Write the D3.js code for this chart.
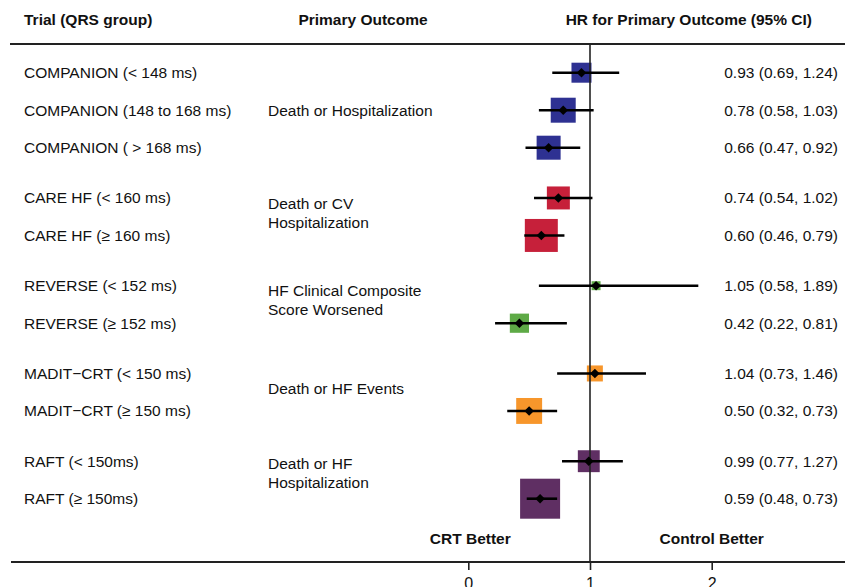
<!DOCTYPE html>
<html>
<head>
<meta charset="utf-8">
<script src="https://cdn.jsdelivr.net/npm/d3@7"></script>
<style>
  html, body { margin: 0; padding: 0; background: #fff; }
  svg { display: block; }
  text { font-family: "Liberation Sans", Arial, Helvetica, sans-serif; fill: #111; }
</style>
</head>
<body>
<svg id="chart" width="852" height="587"></svg>
<script>
// ---- Data ----
const trials = [
  "COMPANION (< 148 ms)", "COMPANION (148 to 168 ms)", "COMPANION ( > 168 ms)",
  "CARE HF (< 160 ms)", "CARE HF (\u2265 160 ms)",
  "REVERSE (< 152 ms)", "REVERSE (\u2265 152 ms)",
  "MADIT\u2212CRT (< 150 ms)", "MADIT\u2212CRT (\u2265 150 ms)",
  "RAFT (< 150ms)", "RAFT (\u2265 150ms)"
];
const groups = [0, 0, 0, 1, 1, 2, 2, 3, 3, 4, 4];
const hr    = [0.93, 0.78, 0.66, 0.74, 0.60, 1.05, 0.42, 1.04, 0.50, 0.99, 0.59];
const lower = [0.69, 0.58, 0.47, 0.54, 0.46, 0.58, 0.22, 0.73, 0.32, 0.77, 0.48];
const upper = [1.24, 1.03, 0.92, 1.02, 0.79, 1.89, 0.81, 1.46, 0.73, 1.27, 0.73];
const weights = [25, 39, 36, 33, 68, 5, 23, 16, 42, 30, 100]; // relative box weight
const outcomes = [
  ["Death or Hospitalization"],
  ["Death or CV", "Hospitalization"],
  ["HF Clinical Composite", "Score Worsened"],
  ["Death or HF Events"],
  ["Death or HF", "Hospitalization"]
];
const groupColors = ["#2E3192", "#C6203A", "#5EAA46", "#F7962B", "#5F2F63"];
const xTicks = [0, 1, 2];
const headers = ["Trial (QRS group)", "Primary Outcome", "HR for Primary Outcome (95% CI)"];
const sideLabels = ["CRT Better", "Control Better"];

// ---- Layout ----
const svg = d3.select("#chart");
const FS = 15.5;
const rowStep = 37.5, groupGap = 0.34, firstRowY = 72.7;
const slot = trials.map((d, i) => i + groups[i] * groupGap);
const y = d3.scaleLinear().domain([0, 1]).range([firstRowY, firstRowY + rowStep]);
const x = d3.scaleLinear().domain([0, 2]).range([468.3, 711.7]);
const size = d3.scaleSqrt().domain([0, 100]).range([0, 40]);
const axisY = 562, ruleY = 44;

// headers
svg.append("text").attr("x", 24).attr("y", 20).attr("dy", "0.35em")
  .attr("font-size", FS).attr("font-weight", "bold").text(headers[0]);
svg.append("text").attr("x", 363).attr("y", 20).attr("dy", "0.35em").attr("text-anchor", "middle")
  .attr("font-size", FS).attr("font-weight", "bold").text(headers[1]);
svg.append("text").attr("x", 812).attr("y", 20).attr("dy", "0.35em").attr("text-anchor", "end")
  .attr("font-size", FS).attr("font-weight", "bold").text(headers[2]);

// top rule
svg.append("line").attr("x1", 10).attr("x2", 845).attr("y1", ruleY).attr("y2", ruleY)
  .attr("stroke", "#222").attr("stroke-width", 2);

// trial labels
svg.append("g").selectAll("text").data(trials).join("text")
  .attr("x", 24).attr("y", (d, i) => y(slot[i])).attr("dy", "0.35em")
  .attr("font-size", FS).text(d => d);

// outcome labels
const offs = [0, -4, -4, -4, -7];
outcomes.forEach((lines, g) => {
  const idx = groups.map((v, i) => v === g ? i : -1).filter(i => i >= 0);
  const mid = (y(slot[idx[0]]) + y(slot[idx[idx.length - 1]])) / 2 + offs[g];
  const lh = 19;
  lines.forEach((t, k) => {
    svg.append("text").attr("x", 268)
      .attr("y", mid + (k - (lines.length - 1) / 2) * lh).attr("dy", "0.35em")
      .attr("font-size", FS).text(t);
  });
});

// CI text
svg.append("g").selectAll("text").data(trials).join("text")
  .attr("x", 838).attr("y", (d, i) => y(slot[i])).attr("dy", "0.35em")
  .attr("text-anchor", "end").attr("font-size", FS)
  .text((d, i) => `${hr[i].toFixed(2)} (${lower[i].toFixed(2)}, ${upper[i].toFixed(2)})`);

// boxes
svg.append("g").selectAll("rect").data(trials).join("rect")
  .attr("x", (d, i) => x(hr[i]) - size(weights[i]) / 2)
  .attr("y", (d, i) => y(slot[i]) - size(weights[i]) / 2)
  .attr("width", (d, i) => size(weights[i]))
  .attr("height", (d, i) => size(weights[i]))
  .attr("fill", (d, i) => groupColors[groups[i]]);

// reference line at 1
svg.append("line").attr("x1", x(1)).attr("x2", x(1)).attr("y1", ruleY).attr("y2", axisY)
  .attr("stroke", "#222").attr("stroke-width", 1.6);

// CI lines
svg.append("g").selectAll("line").data(trials).join("line")
  .attr("x1", (d, i) => x(lower[i])).attr("x2", (d, i) => x(upper[i]))
  .attr("y1", (d, i) => y(slot[i])).attr("y2", (d, i) => y(slot[i]))
  .attr("stroke", "#000").attr("stroke-width", 2.6);

// point diamonds
const dh = 4.8;
svg.append("g").selectAll("path").data(trials).join("path")
  .attr("d", (d, i) => {
    const cx = x(hr[i]), cy = y(slot[i]);
    return `M${cx - dh},${cy}L${cx},${cy - dh}L${cx + dh},${cy}L${cx},${cy + dh}Z`;
  })
  .attr("fill", "#000");

// side labels
svg.append("text").attr("x", x(0) + 2).attr("y", 539).attr("dy", "0.35em").attr("text-anchor", "middle")
  .attr("font-size", FS).attr("font-weight", "bold").text(sideLabels[0]);
svg.append("text").attr("x", x(2)).attr("y", 539).attr("dy", "0.35em").attr("text-anchor", "middle")
  .attr("font-size", FS).attr("font-weight", "bold").text(sideLabels[1]);

// bottom axis
svg.append("line").attr("x1", 11).attr("x2", 845).attr("y1", axisY).attr("y2", axisY)
  .attr("stroke", "#222").attr("stroke-width", 2);
const ax = svg.append("g").attr("transform", `translate(0,${axisY})`)
  .call(d3.axisBottom(x).tickValues(xTicks).tickFormat(d3.format("d")).tickSize(8).tickPadding(8));
ax.select(".domain").remove();
ax.selectAll(".tick line").attr("stroke", "#222").attr("stroke-width", 1.6);
ax.selectAll(".tick text").attr("font-size", 16)
  .attr("font-family", "Liberation Sans, Arial, sans-serif").attr("fill", "#111");
</script>
</body>
</html>
